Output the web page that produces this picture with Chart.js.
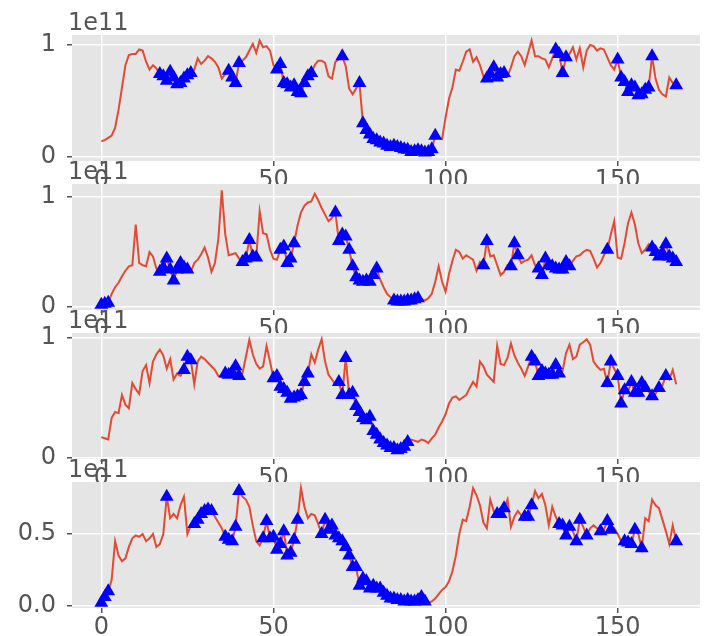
<!DOCTYPE html>
<html>
<head>
<meta charset="utf-8">
<script src="https://cdn.jsdelivr.net/npm/chart.js@4/dist/chart.umd.min.js"></script>
<style>
  html, body { margin: 0; padding: 0; background: #fff; }
  body { width: 708px; height: 636px; overflow: hidden; position: relative; }
  canvas { position: absolute; left: 0; }
</style>
</head>
<body>
<canvas id="c0" width="708" height="200" style="top:1px;z-index:1"></canvas>
<canvas id="c1" width="708" height="200" style="top:150px;z-index:2"></canvas>
<canvas id="c2" width="708" height="200" style="top:299px;z-index:3"></canvas>
<canvas id="c3" width="708" height="200" style="top:448px;z-index:4"></canvas>
<script>
/* values are in units of 1e11, index 0..167 */
const xTicks = [0, 50, 100, 150];
const offsetText = '1e11';

const series1 = [
  0.14,0.15,0.17,0.19,0.26,0.42,0.62,0.82,0.91,0.92,
  0.92,0.96,0.95,0.85,0.78,0.82,0.79,0.74,0.72,0.68,
  0.76,0.71,0.65,0.66,0.70,0.73,0.75,0.78,0.88,0.83,
  0.86,0.90,0.88,0.85,0.80,0.70,0.74,0.77,0.71,0.66,
  0.84,0.86,0.89,0.95,1.01,0.93,1.04,0.98,0.99,0.95,
  0.82,0.78,0.83,0.66,0.65,0.62,0.64,0.58,0.57,0.66,
  0.72,0.75,0.82,0.86,0.86,0.84,0.72,0.70,0.85,0.87,
  0.90,0.81,0.61,0.56,0.61,0.66,0.30,0.24,0.20,0.16,
  0.15,0.13,0.12,0.10,0.09,0.10,0.09,0.08,0.07,0.065,
  0.045,0.05,0.06,0.05,0.04,0.045,0.07,0.19,0.17,0.16,
  0.35,0.52,0.62,0.78,0.77,0.85,0.94,0.96,0.85,0.89,
  0.82,0.72,0.70,0.74,0.80,0.71,0.74,0.75,0.72,0.80,
  0.90,0.94,0.90,0.82,0.93,1.04,0.90,0.90,0.88,0.87,
  0.80,0.88,0.96,0.92,0.75,0.89,0.92,0.98,0.87,0.97,
  0.80,0.95,1.00,0.99,0.95,0.97,0.96,0.89,0.82,0.78,
  0.87,0.71,0.67,0.58,0.64,0.62,0.55,0.56,0.60,0.62,
  0.90,0.70,0.60,0.56,0.54,0.71,0.66,0.64
];
const series2 = [
  0.02,0.03,0.04,0.12,0.18,0.22,0.28,0.33,0.37,0.38,
  0.75,0.40,0.38,0.37,0.50,0.46,0.35,0.32,0.36,0.44,
  0.34,0.24,0.34,0.40,0.36,0.34,0.32,0.40,0.43,0.48,
  0.54,0.45,0.32,0.40,0.62,1.06,0.66,0.47,0.48,0.49,
  0.44,0.41,0.44,0.61,0.46,0.45,0.87,0.67,0.66,0.52,
  0.44,0.43,0.52,0.55,0.40,0.44,0.58,0.74,0.86,0.92,
  0.95,0.96,1.03,0.97,0.90,0.84,0.78,0.81,0.86,0.60,
  0.66,0.64,0.52,0.37,0.27,0.24,0.23,0.24,0.23,0.29,
  0.35,0.25,0.18,0.12,0.09,0.06,0.05,0.05,0.05,0.06,
  0.06,0.07,0.08,0.07,0.06,0.08,0.12,0.23,0.37,0.23,
  0.14,0.30,0.42,0.52,0.50,0.44,0.47,0.45,0.43,0.33,
  0.41,0.38,0.60,0.46,0.47,0.38,0.29,0.32,0.38,0.37,
  0.58,0.47,0.40,0.42,0.43,0.47,0.38,0.35,0.29,0.44,
  0.38,0.37,0.35,0.34,0.34,0.41,0.37,0.42,0.46,0.47,
  0.50,0.52,0.51,0.44,0.36,0.40,0.47,0.52,0.66,0.78,
  0.45,0.44,0.58,0.76,0.86,0.75,0.58,0.49,0.52,0.57,
  0.54,0.50,0.46,0.49,0.57,0.46,0.44,0.41
];
const series3 = [
  0.17,0.16,0.15,0.33,0.38,0.37,0.52,0.44,0.41,0.62,
  0.57,0.53,0.72,0.77,0.62,0.80,0.86,0.90,0.85,0.74,
  0.82,0.65,0.70,0.68,0.73,0.84,0.81,0.61,0.80,0.84,
  0.82,0.79,0.76,0.73,0.68,0.67,0.70,0.69,0.71,0.76,
  0.68,0.70,0.84,0.98,0.86,0.78,0.74,0.76,0.93,0.80,
  0.66,0.68,0.59,0.57,0.54,0.49,0.50,0.51,0.52,0.63,
  0.70,0.86,0.79,0.90,0.985,0.80,0.69,0.65,0.61,0.63,
  0.52,0.83,0.52,0.54,0.43,0.38,0.33,0.31,0.34,0.22,
  0.19,0.15,0.12,0.10,0.08,0.08,0.06,0.07,0.09,0.13,
  0.15,0.14,0.13,0.15,0.14,0.12,0.16,0.19,0.25,0.30,
  0.36,0.45,0.50,0.51,0.48,0.50,0.52,0.58,0.63,0.59,
  0.80,0.76,0.69,0.66,0.63,0.93,0.78,0.77,0.83,0.95,
  0.85,0.79,0.74,0.68,0.76,0.84,0.80,0.68,0.72,0.70,
  0.69,0.69,0.77,0.70,0.72,0.87,0.94,0.82,0.84,0.94,
  0.96,0.985,0.94,0.80,0.76,0.73,0.74,0.62,0.80,0.74,
  0.68,0.45,0.56,0.55,0.63,0.54,0.54,0.62,0.58,0.55,
  0.51,0.53,0.58,0.60,0.68,0.65,0.73,0.61
];
const series4 = [
  0.02,0.06,0.10,0.18,0.45,0.35,0.31,0.33,0.41,0.47,
  0.49,0.48,0.50,0.45,0.47,0.50,0.41,0.43,0.50,0.76,
  0.61,0.64,0.61,0.70,0.76,0.50,0.56,0.57,0.60,0.64,
  0.66,0.67,0.66,0.62,0.58,0.54,0.48,0.46,0.45,0.55,
  0.80,0.76,0.74,0.69,0.56,0.45,0.42,0.47,0.59,0.47,
  0.48,0.39,0.43,0.52,0.35,0.37,0.46,0.60,0.82,0.69,
  0.61,0.64,0.63,0.57,0.50,0.60,0.53,0.56,0.49,0.47,
  0.45,0.41,0.35,0.27,0.27,0.14,0.19,0.17,0.12,0.14,
  0.12,0.12,0.09,0.07,0.05,0.05,0.04,0.04,0.03,0.04,
  0.03,0.03,0.04,0.06,0.03,0.02,0.03,0.05,0.08,0.11,
  0.13,0.17,0.24,0.35,0.50,0.60,0.59,0.69,0.82,0.77,
  0.70,0.58,0.54,0.74,0.66,0.64,0.64,0.68,0.74,0.55,
  0.62,0.66,0.63,0.62,0.62,0.70,0.80,0.75,0.78,0.70,
  0.56,0.69,0.62,0.57,0.56,0.49,0.55,0.52,0.45,0.60,
  0.55,0.49,0.54,0.56,0.54,0.52,0.53,0.59,0.53,0.54,
  0.50,0.45,0.45,0.44,0.43,0.53,0.50,0.40,0.61,0.59,
  0.74,0.70,0.68,0.60,0.52,0.43,0.56,0.45
];

// index spans [from, to] that carry a triangle marker
const markSpans1 = [[17,26],[37,40],[51,61],[70,70],[75,97],[112,117],[132,135],[150,160],[167,167]];
const markSpans2 = [[0,2],[17,25],[41,45],[52,56],[68,80],[85,92],[111,112],[119,121],[127,136],[147,147],[160,167]];
const markSpans3 = [[24,26],[36,40],[50,60],[69,89],[125,133],[147,148],[150,152],[154,158],[160,160],[162,162],[164,164]];
const markSpans4 = [[0,2],[19,19],[27,32],[36,40],[47,57],[64,94],[115,117],[123,125],[133,136],[138,139],[141,141],[145,145],[147,148],[152,155],[157,157],[167,167]];

const yMins = [-0.036, -0.027, -0.0125, -0.016];
const yMaxs = [1.089, 1.118, 1.0375, 0.8626];
const yTickVals = [[0, 1], [0, 1], [0, 1], [0, 0.5]];
const yTickText = [['0', '1'], ['0', '1'], ['0', '1'], ['0.0', '0.5']];

const seriesList = [series1, series2, series3, series4];
const spanList = [markSpans1, markSpans2, markSpans3, markSpans4];

const FONT = { family: "'DejaVu Sans', sans-serif", size: 24 };
const TXT = '#555555';

const axesBg = {
  id: 'axesBg',
  beforeDraw(chart) {
    const { ctx, chartArea: a } = chart;
    ctx.save();
    ctx.fillStyle = '#E5E5E5';
    ctx.fillRect(a.left, a.top, a.right - a.left, a.bottom - a.top);
    ctx.restore();
  },
  afterDraw(chart) {
    const { ctx, chartArea: a } = chart;
    ctx.save();
    ctx.fillStyle = TXT;
    ctx.font = "24px 'DejaVu Sans', sans-serif";
    ctx.textAlign = 'left';
    ctx.textBaseline = 'alphabetic';
    ctx.fillText(offsetText, a.left - 4, a.top - 5);
    ctx.restore();
  }
};

function spanIdx(spans) {
  const out = [];
  spans.forEach(([a, b]) => { for (let k = a; k <= b; k++) out.push(k); });
  return out;
}

function makePanel(i) {
  const vals = seriesList[i];
  const marks = spanIdx(spanList[i]);
  new Chart(document.getElementById('c' + i), {
    type: 'line',
    data: {
      datasets: [
        {
          data: marks.map(k => ({ x: k, y: vals[k] })),
          showLine: false, pointStyle: 'triangle', pointRadius: 8,
          backgroundColor: '#0000FF', borderColor: '#0000FF', borderWidth: 0,
          order: 0
        },
        {
          data: vals.map((v, k) => ({ x: k, y: v })),
          borderColor: '#E24A33', borderWidth: 2, pointRadius: 0, tension: 0,
          order: 1
        }
      ]
    },
    options: {
      responsive: false, animation: false, events: [],
      layout: { padding: { top: 34, left: 0, right: 0, bottom: 0 } },
      plugins: { legend: { display: false }, tooltip: { enabled: false } },
      scales: {
        x: {
          type: 'linear', min: -8.52, max: 173.92,
          afterBuildTicks: s => { s.ticks = xTicks.map(v => ({ value: v })); },
          afterFit: s => { s.height = 40; },
          ticks: { color: TXT, font: FONT, padding: 0, autoSkip: false, maxRotation: 0, callback: v => String(v) },
          grid: { color: '#ffffff', lineWidth: 1.5, tickColor: TXT, tickLength: 5, tickWidth: 1.5 },
          border: { display: false }
        },
        y: {
          min: yMins[i], max: yMaxs[i],
          afterBuildTicks: s => { s.ticks = yTickVals[i].map(v => ({ value: v })); },
          afterFit: s => { s.width = 72; },
          ticks: { color: TXT, font: FONT, padding: 11, callback: v => yTickText[i][yTickVals[i].indexOf(v)] },
          grid: { color: '#ffffff', lineWidth: 1.5, tickColor: TXT, tickLength: 5, tickWidth: 1.5 },
          border: { display: false }
        }
      }
    },
    plugins: [axesBg]
  });
}

[0, 1, 2, 3].forEach(makePanel);
</script>
</body>
</html>
